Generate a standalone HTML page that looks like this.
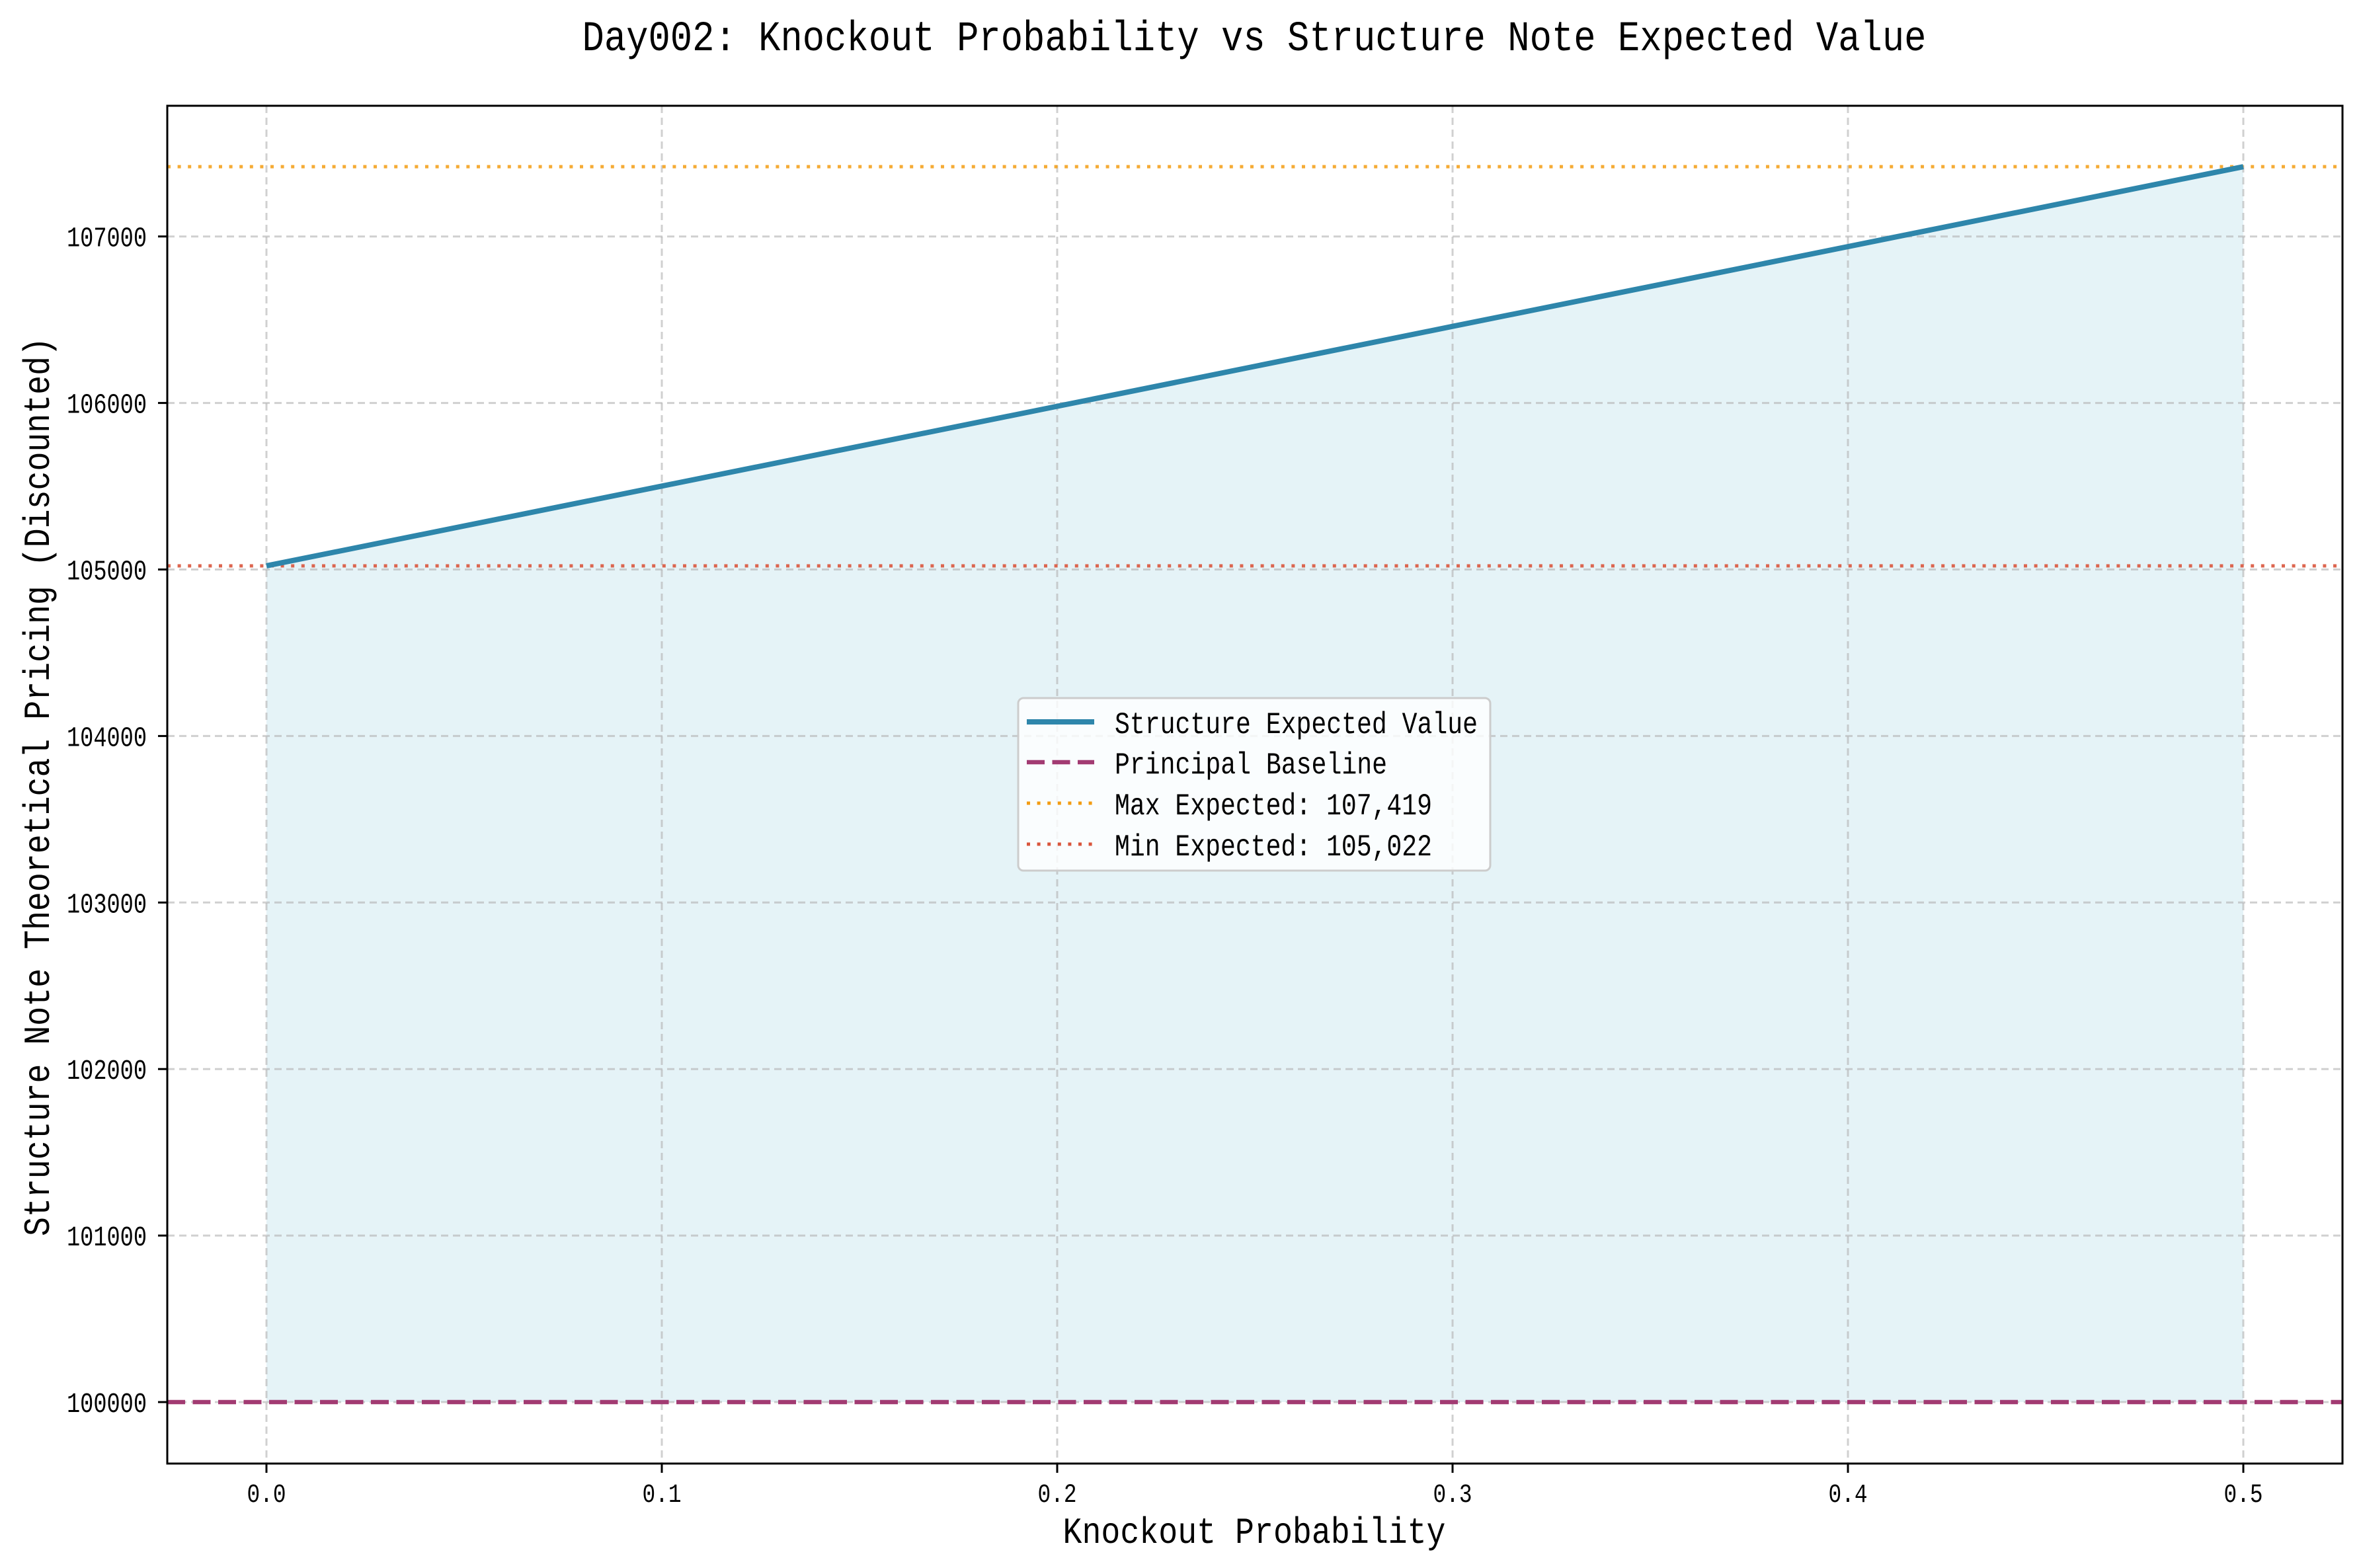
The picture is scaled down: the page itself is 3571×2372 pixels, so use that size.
<!DOCTYPE html>
<html><head><meta charset="utf-8"><style>
html,body{margin:0;padding:0;background:#fff;}
svg{display:block;}
text{font-family:"Liberation Mono","WenQuanYi Zen Hei",monospace;fill:#000;}
</style></head><body>
<svg id="chart" width="3571" height="2372" viewBox="0 0 3571 2372" xmlns="http://www.w3.org/2000/svg">
<rect width="3571" height="2372" fill="#fff"/>
<g id="plot"></g>
</svg>
<script>
const xValues = [0, 0.1, 0.2, 0.3, 0.4, 0.5];
const expectedValues = [105022, 105501, 105980, 106460, 106939, 107419];
const principal = 100000;
const maxExpected = 107419;
const minExpected = 105022;
const xTicks = [0, 0.1, 0.2, 0.3, 0.4, 0.5];
const xTickLabels = ["0.0", "0.1", "0.2", "0.3", "0.4", "0.5"];
const yTicks = [100000, 101000, 102000, 103000, 104000, 105000, 106000, 107000];
const yTickLabels = ["100000", "101000", "102000", "103000", "104000", "105000", "106000", "107000"];
const legendLabels = ["Structure Expected Value", "Principal Baseline", "Max Expected: 107,419", "Min Expected: 105,022"];

const L = 253, R = 3543, T = 160, B = 2214;
function sx(v){ return 403 + (v - 0) * 5980; }
function sy(v){ return 2121 - (v - 100000) * 0.2519; }
const NS = "http://www.w3.org/2000/svg";
const g = document.getElementById('plot');
function el(tag, attrs, parent){
  const e = document.createElementNS(NS, tag);
  for (const k in attrs) e.setAttribute(k, attrs[k]);
  (parent || g).appendChild(e);
  return e;
}

let pts = xValues.map((x,i)=>sx(x)+','+sy(expectedValues[i]));
const fill = el('polygon', {points: sx(xValues[0])+','+sy(principal)+' '+pts.join(' ')+' '+sx(xValues[xValues.length-1])+','+sy(principal), fill:'#a8d8e6', 'fill-opacity':'0.3'});



xTicks.forEach((t,i)=>{
  const ln = el('line', {x1:sx(t), x2:sx(t), y1:T, y2:B, stroke:'#b0b0b0', 'stroke-opacity':'0.6', 'stroke-width':3, 'stroke-dasharray':'11 7'});
  
  
});
yTicks.forEach((t,i)=>{
  const ln = el('line', {x1:L, x2:R, y1:sy(t), y2:sy(t), stroke:'#b0b0b0', 'stroke-opacity':'0.6', 'stroke-width':3, 'stroke-dasharray':'11 7'});
  
  
});

const maxL = el('line', {x1:L, x2:R, y1:sy(maxExpected), y2:sy(maxExpected), stroke:'#f39c12', 'stroke-opacity':'0.85', 'stroke-width':5, 'stroke-dasharray':'5 10.6'});


const minL = el('line', {x1:L, x2:R, y1:sy(minExpected), y2:sy(minExpected), stroke:'#d9553c', 'stroke-opacity':'0.9', 'stroke-width':5, 'stroke-dasharray':'5 10.6'});



const line = el('polyline', {points: pts.join(' '), fill:'none', stroke:'#2e86ab', 'stroke-width':8, 'stroke-linejoin':'round'});



const base = el('line', {x1:L, x2:R, y1:sy(principal), y2:sy(principal), stroke:'#a23b72', 'stroke-width':6.5, 'stroke-dasharray':'27 11.5'});



const frame = el('rect', {x:L, y:T, width:R-L, height:B-T, fill:'none', stroke:'#000', 'stroke-width':3});



xTicks.forEach((t,i)=>{
  const tk = el('line', {x1:sx(t), x2:sx(t), y1:B, y2:B+14, stroke:'#000', 'stroke-width':3});
  
  
  const tx = el('text', {x:sx(t), y:2272, 'font-size':40, 'text-anchor':'middle', textLength:59, lengthAdjust:'spacingAndGlyphs'});
  tx.textContent = xTickLabels[i];
  
  
});
yTicks.forEach((t,i)=>{
  const tk = el('line', {x1:L-14, x2:L, y1:sy(t), y2:sy(t), stroke:'#000', 'stroke-width':3});
  
  
  const tx = el('text', {x:222, y:sy(t)+15, 'font-size':43, 'text-anchor':'end', textLength:121, lengthAdjust:'spacingAndGlyphs'});
  tx.textContent = yTickLabels[i];
  
  
});

const title = el('text', {x:1897, y:76, 'font-size':64, 'text-anchor':'middle', textLength:2033, lengthAdjust:'spacingAndGlyphs'});
title.textContent = 'Day002: Knockout Probability vs Structure Note Expected Value';


const xt = el('text', {x:1897, y:2334, 'font-size':56, 'text-anchor':'middle', textLength:579, lengthAdjust:'spacingAndGlyphs'});
xt.textContent = 'Knockout Probability';


const yt = el('text', {x:0, y:0, 'font-size':56, 'text-anchor':'middle', textLength:1360, lengthAdjust:'spacingAndGlyphs', transform:'translate(74,1190) rotate(-90)'});
yt.textContent = 'Structure Note Theoretical Pricing (Discounted)';



const lg = el('g', {});


const box = el('rect', {x:1540, y:1056, width:714, height:261, rx:8, fill:'#fff', 'fill-opacity':'0.8', stroke:'#cccccc', 'stroke-width':3}, lg);


const rowsY = [1092, 1153, 1215, 1277];
const styles = [
  {stroke:'#2e86ab', w:8, dash:''},
  {stroke:'#a23b72', w:6.5, dash:'27 11.5'},
  {stroke:'#f39c12', w:5, dash:'5 10.6'},
  {stroke:'#d9553c', w:5, dash:'5 10.6'}
];
const widths = [549, 412, 480, 480];
legendLabels.forEach((lab,i)=>{
  const h = el('line', {x1:1553, x2:1655, y1:rowsY[i], y2:rowsY[i], stroke:styles[i].stroke, 'stroke-width':styles[i].w, 'stroke-dasharray':styles[i].dash}, lg);
  
  
  const t = el('text', {x:1686, y:rowsY[i]+17, 'font-size':46, textLength:widths[i], lengthAdjust:'spacingAndGlyphs'}, lg);
  t.textContent = lab;
  
  
});
</script>
</body></html>
